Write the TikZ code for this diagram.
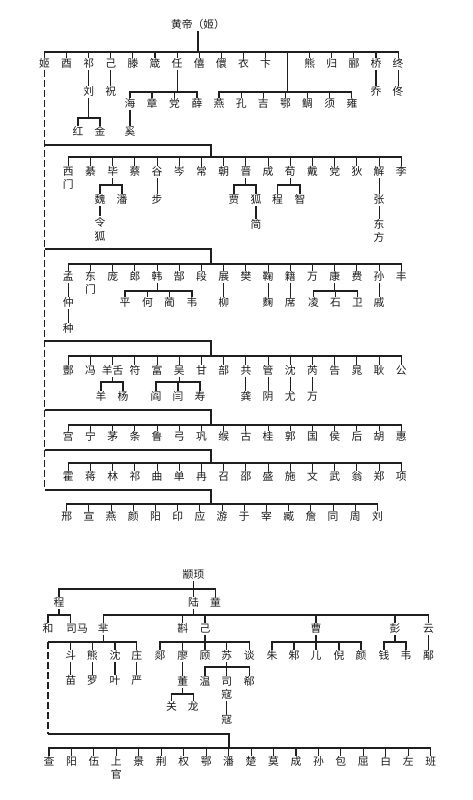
\documentclass[tikz,border=0pt]{standalone}
\usepackage{fontspec}
\setmainfont{Noto Sans CJK SC}
\tikzset{
  lbl/.style={font=\fontsize{10.8}{12}\selectfont, text=black!90, inner sep=0pt, outer sep=1.2pt, text height=8.4pt, text depth=1.4pt},
  ln/.style={draw=black!88, line width=1.1pt},
  dl/.style={ln, dash pattern=on 7pt off 3pt}
}
\newcommand\famtree[3]{\foreach \kid in {#3}{\draw[ln] (#1) |- (\kid |- 0,#2) -- (\kid.north);}}
\newcommand\rowlink[4]{\foreach \i in {1,...,#4}{\draw[ln] (#1) |- (#3\i |- 0,#2) -- (#3\i.north);}}
\newcommand\stem[2]{\draw[ln] (#1.south) -- (#1.south |- #2.north);}
\newcommand\rowof[5]{\foreach \t [count=\i] in {#5}{\node[lbl] (#1\i) at ({#2+#3*(\i-1)},#4) {\t};}}
\begin{document}
\begin{tikzpicture}[x=1pt,y=-1pt]
\useasboundingbox (0,0) rectangle (472,800);
% ---------------- upper tree ----------------
\node[lbl] (root) at (198,25) {黄帝（姬）};
\foreach \t/\i in {姬/1,酉/2,祁/3,己/4,滕/5,箴/6,任/7,僖/8,儇/9,衣/10,卞/11,熊/13,归/14,郦/15,桥/16,终/17}
  \node[lbl] (ra\i) at ({44.5+22.1*(\i-1)},64) {\t};
\coordinate (ra12) at ({44.5+22.1*11},52);
\famtree{root.south}{52}{ra1,ra2,ra3,ra4,ra5,ra6,ra7,ra8,ra9,ra10,ra11,ra13,ra14,ra15,ra16,ra17}
% row 1 descendants
\node[lbl] (liu) at (ra3 |- 0,92) {刘};
\stem{ra3}{liu}
\node[lbl] (hong) at (78,132) {红};
\node[lbl] (jin) at (100,132) {金};
\famtree{liu.south}{118}{hong,jin}
\node[lbl] (zhu) at (ra4 |- 0,92) {祝};
\stem{ra4}{zhu}
\node[lbl] (hai) at (130,104) {海};
\node[lbl] (zhang) at (152,104) {章};
\node[lbl] (dang) at (174.5,104) {党};
\node[lbl] (xue) at (197,104) {薛};
\famtree{ra7.south}{92}{hai,zhang,dang,xue}
\node[lbl] (xi) at (hai |- 0,132) {奚};
\stem{hai}{xi}
\rowof{k}{219}{22.15}{104}{燕,孔,吉,鄂,鲷,须,雍}
\rowlink{ra12}{92}{k}{7}
\node[lbl] (qiao) at (ra16 |- 0,92) {乔};
\stem{ra16}{qiao}
\node[lbl] (tong) at (ra17 |- 0,92) {佟};
\stem{ra17}{tong}
% group brackets
\foreach \g/\gy/\by in {2/145/157,3/249/264,4/341/356,5/410/425,6/450/463,7/490/504}{
  \coordinate (grp\g) at (44.5,\gy);
  \coordinate (jn\g) at (211,\by);
  \draw[ln] (grp\g) -| (jn\g);
}
\draw[dl] (ra1.south) -- (grp7);
% group 2
\rowof{rb}{68.3}{22.2}{172.3}{西,綦,毕,蔡,谷,岑,常,朝,晋,成,荀,戴,党,狄,解,李}
\rowlink{jn2}{157}{rb}{16}
\node[lbl] (rb1x) at (rb1 |- 0,185) {门};
\node[lbl] (wei) at (100,200) {魏};
\node[lbl] (pan) at (122,200) {潘};
\famtree{rb3.south}{185}{wei,pan}
\node[lbl] (ling) at (100,222.5) {令};
\node[lbl] (lingx) at (100,237) {狐};
\stem{wei}{ling}
\node[lbl] (bu) at (rb5 |- 0,200) {步};
\stem{rb5}{bu}
\node[lbl] (jia) at (234,200) {贾};
\node[lbl] (hu) at (256,200) {狐};
\famtree{rb9.south}{185}{jia,hu}
\node[lbl] (jian) at (hu |- 0,225) {简};
\stem{hu}{jian}
\node[lbl] (cheng) at (277.5,200) {程};
\node[lbl] (zhi) at (300,200) {智};
\famtree{rb11.south}{185}{cheng,zhi}
\node[lbl] (zhang2) at (rb15 |- 0,200) {张};
\stem{rb15}{zhang2}
\node[lbl] (dongf) at (rb15 |- 0,225) {东};
\node[lbl] (dongfx) at (rb15 |- 0,238) {方};
\stem{zhang2}{dongf}
% group 3
\rowof{rc}{68.3}{22.2}{277.3}{孟,东,庞,郎,韩,郜,段,展,樊,鞠,籍,万,康,费,孙,丰}
\rowlink{jn3}{264}{rc}{16}
\node[lbl] (rc2x) at (rc2 |- 0,290) {门};
\node[lbl] (zhong) at (rc1 |- 0,303) {仲};
\stem{rc1}{zhong}
\node[lbl] (zhong2) at (rc1 |- 0,329) {种};
\stem{zhong}{zhong2}
\node[lbl] (ping) at (125,303) {平};
\node[lbl] (he) at (147.5,303) {何};
\node[lbl] (lin) at (169.5,303) {蔺};
\node[lbl] (weic) at (192,303) {韦};
\famtree{rc5.south}{291}{ping,he,lin,weic}
\node[lbl] (liu3) at (rc8 |- 0,303) {柳};
\stem{rc8}{liu3}
\node[lbl] (qu) at (rc10 |- 0,303) {麴};
\stem{rc10}{qu}
\node[lbl] (xi3) at (rc11 |- 0,303) {席};
\stem{rc11}{xi3}
\node[lbl] (lingc) at (313.5,303) {凌};
\node[lbl] (shi) at (335.5,303) {石};
\node[lbl] (weid) at (357.5,303) {卫};
\famtree{rc13.south}{291}{lingc,shi,weid}
\node[lbl] (qi) at (rc15 |- 0,303) {戚};
\stem{rc15}{qi}
% group 4
\rowof{rd}{68.3}{22.2}{370.7}{酆,冯,羊舌,符,富,吴,甘,部,共,管,沈,芮,告,晁,耿,公}
\rowlink{jn4}{356}{rd}{16}
\node[lbl] (yang) at (101,397) {羊};
\node[lbl] (yang2) at (123,397) {杨};
\famtree{rd3.south}{382}{yang,yang2}
\node[lbl] (yan) at (156,397) {阎};
\node[lbl] (yan2) at (178,397) {闫};
\node[lbl] (shou) at (200,397) {寿};
\famtree{rd6.south}{382}{yan,yan2,shou}
\node[lbl] (gong) at (rd9 |- 0,397) {龚};
\stem{rd9}{gong}
\node[lbl] (yin) at (rd10 |- 0,397) {阴};
\stem{rd10}{yin}
\node[lbl] (you) at (rd11 |- 0,397) {尤};
\stem{rd11}{you}
\node[lbl] (wan) at (rd12 |- 0,397) {万};
\stem{rd12}{wan}
% group 5
\rowof{re}{68.3}{22.2}{436.7}{宫,宁,茅,条,鲁,弓,巩,缑,古,桂,郭,国,侯,后,胡,惠}
\rowlink{jn5}{425}{re}{16}
% group 6
\rowof{rf}{68.3}{22.2}{477.3}{霍,蒋,林,祁,曲,单,冉,召,邵,盛,施,文,武,翁,郑,项}
\rowlink{jn6}{463}{rf}{16}
% group 7
\rowof{rg}{66.7}{22.2}{516.7}{邢,宣,燕,颜,阳,印,应,游,于,宰,臧,詹,同,周,刘}
\rowlink{jn7}{504}{rg}{15}
% ---------------- lower tree ----------------
\node[lbl] (zx) at (193.5,575) {颛顼};
\node[lbl] (cheng0) at (59,603) {程};
\node[lbl] (lu) at (193.5,603) {陆};
\node[lbl] (tong0) at (215.5,603) {童};
\famtree{zx.south}{589}{cheng0,lu,tong0}
\node[lbl] (he0) at (48,629) {和};
\node[lbl] (sima) at (77,629) {司马};
\draw[ln] (cheng0.south) |- (he0 |- 0,615) -- (he0.north);
\draw[ln] (cheng0.south) |- ([xshift=-6.5pt]sima.north |- 0,615) -- ([xshift=-6.5pt]sima.north);
\node[lbl] (mi) at (103.3,629) {芈};
\node[lbl] (zhen) at (182.7,629) {斟};
\node[lbl] (ji0) at (205,629) {己};
\node[lbl] (cao) at (316,629) {曹};
\node[lbl] (peng) at (395,629) {彭};
\node[lbl] (yun) at (428.5,629) {云};
\famtree{lu.south}{615}{mi,zhen,ji0,cao,peng,yun}
% mi branch
\node[lbl] (dou) at (70.7,656) {斗};
\node[lbl] (xiong) at (92.3,656) {熊};
\node[lbl] (shen) at (115,656) {沈};
\node[lbl] (zhuang) at (136.7,656) {庄};
\famtree{mi.south}{642}{dou,xiong,shen,zhuang}
\coordinate (lft) at (48,642);
\coordinate (lft2) at (48,734);
\coordinate (jb) at (229,748);
\draw[ln] (mi.south) |- (lft);
\draw[dl] (lft) -- (lft2);
\draw[ln] (lft2) -| (jb);
\node[lbl] (miao) at (dou |- 0,681) {苗};
\stem{dou}{miao}
\node[lbl] (luo) at (xiong |- 0,681) {罗};
\stem{xiong}{luo}
\node[lbl] (ye) at (shen |- 0,681) {叶};
\stem{shen}{ye}
\node[lbl] (yan4) at (zhuang |- 0,681) {严};
\stem{zhuang}{yan4}
% ji branch
\node[lbl] (tan) at (160,656) {郯};
\node[lbl] (liao) at (182.7,656) {廖};
\node[lbl] (gu) at (205,656) {顾};
\node[lbl] (su) at (226.7,656) {苏};
\node[lbl] (tan2) at (249.3,656) {谈};
\famtree{ji0.south}{642}{tan,liao,gu,su,tan2}
\node[lbl] (dong2) at (liao |- 0,682) {董};
\stem{liao}{dong2}
\node[lbl] (guan) at (171.5,707) {关};
\node[lbl] (long) at (193.3,707) {龙};
\famtree{dong2.south}{694}{guan,long}
\node[lbl] (wen) at (205,682) {温};
\node[lbl] (sik) at (226.7,682) {司};
\node[lbl] (xi2) at (249.3,682) {郗};
\famtree{su.south}{667}{wen,sik,xi2}
\node[lbl] (sikx) at (226.7,695) {寇};
\node[lbl] (kou) at (226.7,720) {寇};
\stem{sikx}{kou}
% cao branch
\node[lbl] (zhu2) at (272,656) {朱};
\node[lbl] (zhu3) at (294,656) {邾};
\node[lbl] (er) at (316,656) {儿};
\node[lbl] (ni) at (339,656) {倪};
\node[lbl] (yan3) at (361,656) {颜};
\famtree{cao.south}{642}{zhu2,zhu3,er,ni,yan3}
\node[lbl] (qian) at (384,656) {钱};
\node[lbl] (wei5) at (406,656) {韦};
\famtree{peng.south}{642}{qian,wei5}
\node[lbl] (yu) at (yun |- 0,656) {鄅};
\stem{yun}{yu}
% bottom row
\rowof{s}{49}{22.45}{762.3}{查,阳,伍,上,景,荆,权,鄂,潘,楚,莫,成,孙,包,屈,白,左,班}
\rowlink{jb}{748}{s}{18}
\node[lbl] (s4x) at (s4 |- 0,775) {官};
\end{tikzpicture}
\end{document}
